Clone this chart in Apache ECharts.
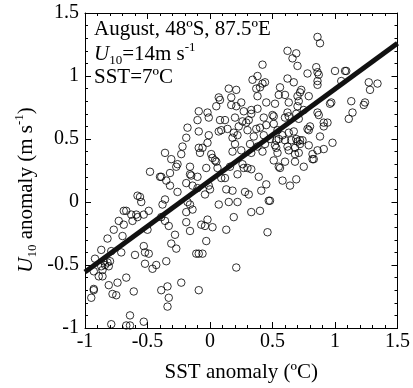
<!DOCTYPE html>
<html><head><meta charset="utf-8">
<script src="https://cdn.jsdelivr.net/npm/echarts@6/dist/echarts.min.js"></script>
<style>html,body{margin:0;padding:0;background:#fff}#c{width:413px;height:388px}</style>
</head><body><div id="c"></div>
<script>
// SST anomaly (ºC) for each point
const sstAnomaly = [
0.62,0.69,0.66,0.70,0.42,0.38,0.34,0.62,0.67,0.44,0.42,0.40,0.15,0.21,0.37,0.56,0.55,0.60,0.17,0.07,
0.08,0.38,0.45,0.52,0.63,0.25,0.17,0.05,0.21,-0.09,-0.02,0.27,0.33,0.33,0.38,0.62,0.50,0.20,0.86,0.88,
0.85,0.86,0.87,0.78,1.00,1.08,1.09,0.86,0.86,1.05,1.27,1.34,1.28,0.73,0.72,0.70,0.79,0.71,0.97,0.96,
1.13,1.24,1.23,0.70,0.75,0.69,0.86,1.14,1.11,0.71,-0.10,-0.18,-0.09,-0.19,-0.22,-0.23,-0.36,-0.31,-0.26,-0.27,
-0.16,-0.16,-0.15,-0.48,-0.32,-0.40,-0.39,-0.35,-0.10,-0.19,-0.32,-0.14,-0.10,-0.26,-0.58,-0.56,-0.55,-0.36,-0.38,-0.18,
-0.16,-0.19,-0.14,-0.69,-0.67,-0.63,-0.59,-0.58,-0.53,-0.49,-0.62,-0.73,-0.39,-0.36,-0.19,-0.01,0.08,0.12,0.26,0.29,
0.31,0.43,0.51,0.60,0.63,-0.01,0.07,0.09,0.14,0.19,0.23,0.30,0.37,0.40,0.45,0.51,0.54,0.58,0.63,0.67,
0.69,0.22,0.18,0.43,0.48,0.53,0.55,0.60,0.65,0.35,-0.02,-0.09,-0.06,-0.08,0.20,0.32,0.38,0.44,0.52,0.53,
0.62,0.63,0.68,0.01,0.02,0.04,0.05,0.25,0.18,0.33,0.42,0.54,0.68,0.51,0.60,0.68,-0.03,0.06,0.16,0.26,
0.27,0.30,0.33,0.55,0.56,0.09,0.12,0.22,0.39,0.45,0.58,0.64,0.69,-0.04,-0.01,0.00,0.13,0.18,0.28,0.31,
0.41,0.47,0.48,0.07,0.15,0.22,0.33,0.40,0.19,0.87,0.91,0.94,0.91,0.80,0.78,0.79,0.88,0.70,0.72,0.74,
0.72,0.79,0.98,0.91,0.86,0.71,0.82,0.82,0.83,0.75,-0.69,-0.77,-0.82,-0.70,-0.87,-0.79,-0.71,-0.60,-0.92,-0.85,
-0.82,-0.80,-0.84,-0.81,-0.87,-0.86,-0.93,-0.89,-0.86,-0.50,-0.53,-0.52,-0.49,-0.52,-0.43,-0.46,-0.35,-0.67,-0.74,-0.81,
-0.93,-0.93,-0.95,-0.78,-0.75,-0.61,-0.39,-0.34,-0.33,-0.34,-0.23,-0.09,-0.64,-0.79,-0.67,-0.64,-0.53,-0.33,-0.16,-0.28,
-0.31,-0.27,-0.07,-0.04,-0.02,0.02,-0.03,-0.11,-0.09,-0.06,0.13,0.21,0.46
];
// U10 anomaly (m s-1) for each point
const u10Anomaly = [
1.20,1.18,1.14,1.08,1.09,1.00,0.97,0.98,0.95,0.95,0.94,0.91,0.90,0.89,0.90,0.91,0.85,0.85,0.83,0.83,
0.81,0.84,0.79,0.78,0.79,0.79,0.77,0.76,0.76,0.72,0.71,0.72,0.73,0.70,0.74,0.71,0.69,0.67,1.31,1.26,
1.07,1.03,1.01,1.02,1.04,1.04,1.04,0.96,0.93,0.96,0.95,0.94,0.89,0.89,0.87,0.84,0.84,0.80,0.79,0.78,
0.80,0.79,0.77,0.76,0.73,0.70,0.71,0.71,0.66,0.66,0.65,0.59,0.56,0.51,0.44,0.38,0.39,0.34,0.30,0.28,
0.28,0.22,0.21,0.24,0.23,0.20,0.20,0.17,0.20,0.15,0.13,0.13,0.11,0.08,0.05,0.04,0.00,0.02,-0.02,0.00,
-0.02,-0.08,-0.06,-0.07,-0.07,-0.10,-0.10,-0.12,-0.10,-0.07,-0.15,-0.15,-0.12,-0.15,-0.16,0.67,0.65,0.65,0.64,0.63,
0.65,0.67,0.68,0.67,0.68,0.53,0.56,0.57,0.58,0.55,0.60,0.57,0.58,0.59,0.61,0.62,0.57,0.53,0.55,0.56,
0.50,0.53,0.51,0.53,0.50,0.49,0.50,0.49,0.49,0.52,0.47,0.43,0.43,0.39,0.46,0.46,0.44,0.46,0.45,0.43,
0.44,0.41,0.43,0.38,0.35,0.33,0.32,0.41,0.40,0.39,0.40,0.39,0.38,0.33,0.32,0.32,0.27,0.27,0.28,0.30,
0.27,0.27,0.26,0.28,0.27,0.19,0.19,0.22,0.20,0.14,0.17,0.13,0.18,0.06,0.13,0.10,0.10,0.09,0.08,0.06,
0.09,0.01,0.01,-0.02,0.00,0.00,-0.08,-0.07,-0.12,0.69,0.63,0.63,0.60,0.60,0.58,0.57,0.52,0.48,0.49,0.49,
0.46,0.45,0.47,0.42,0.41,0.39,0.38,0.34,0.34,0.28,-0.18,-0.22,-0.29,-0.27,-0.38,-0.39,-0.40,-0.42,-0.45,-0.47,
-0.48,-0.47,-0.50,-0.51,-0.51,-0.54,-0.55,-0.59,-0.59,-0.22,-0.35,-0.40,-0.41,-0.49,-0.50,-0.53,-0.47,-0.60,-0.64,-0.66,
-0.69,-0.70,-0.76,-0.73,-0.74,-0.71,-0.70,-0.67,-0.76,-0.83,-0.64,-0.70,-0.90,-0.97,-0.98,-0.98,-0.95,-0.19,-0.23,-0.26,
-0.33,-0.37,-0.18,-0.19,-0.14,-0.20,-0.31,-0.41,-0.41,-0.41,-0.22,-0.52,-0.24
];
// Regression line end points
const fitX = [-1, 1.5];
const fitY = [-0.555, 1.26];
const axisMin = -1, axisMax = 1.5, axisStep = 0.5;

const points = sstAnomaly.map((x, i) => [x, u10Anomaly[i]]);
const fitLine = fitX.map((x, i) => [x, fitY[i]]);

const serif = 'Liberation Serif';
const chart = echarts.init(document.getElementById('c'), null, {renderer: 'canvas'});

function axisCommon(extra) {
  return Object.assign({
    type: 'value', min: axisMin, max: axisMax, interval: axisStep,
    splitLine: {show: false},
    axisLine: {show: true, onZero: false, lineStyle: {color: '#000', width: 1}},
    axisTick: {show: true, inside: true, length: 6, lineStyle: {color: '#000'}},
    minorTick: {show: true, splitNumber: 5, length: 3, lineStyle: {color: '#000'}},
    axisLabel: {show: true, color: '#000', fontFamily: serif, fontSize: 20}
  }, extra);
}
const richStyles = {
  i: {fontFamily: serif, fontSize: 21, fontStyle: 'italic', lineHeight: 26, verticalAlign: 'middle'},
  n: {fontFamily: serif, fontSize: 21, lineHeight: 26, verticalAlign: 'middle'},
  sub: {fontFamily: serif, fontSize: 13, lineHeight: 13, verticalAlign: 'bottom'},
  sup: {fontFamily: serif, fontSize: 13, lineHeight: 13, verticalAlign: 'top'}
};

chart.setOption({
  animation: false,
  backgroundColor: '#fff',
  grid: {left: 85, right: 13, top: 13, bottom: 59, containLabel: false},
  xAxis: [
    axisCommon({position: 'bottom', name: 'SST anomaly (ºC)', nameLocation: 'middle', nameGap: 34,
      nameTextStyle: {color: '#000', fontFamily: serif, fontSize: 21},
      axisLabel: {show: true, color: '#000', fontFamily: serif, fontSize: 20, margin: 4}}),
    axisCommon({position: 'top', axisLabel: {show: false}})
  ],
  yAxis: [
    axisCommon({position: 'left', axisLabel: {show: true, color: '#000', fontFamily: serif, fontSize: 20, margin: 6}}),
    axisCommon({position: 'right', axisLabel: {show: false}})
  ],
  graphic: [
    {type: 'text', left: 94, top: 19, style: {text: 'August, 48ºS, 87.5ºE', font: '21px "Liberation Serif"', fill: '#000'}},
    {type: 'text', left: 94, top: 41, style: {
      text: '{i|U}{sub|10}{n|=14m s}{sup|-1}', fill: '#000', rich: richStyles}},
    {type: 'text', left: 94, top: 67, style: {text: 'SST=7ºC', font: '21px "Liberation Serif"', fill: '#000'}},
    {type: 'text', x: 26, y: 190, rotation: Math.PI / 2, style: {
      text: '{i|U}{sub|10}{n| anomaly (m s}{sup|-1}{n|)}',
      fill: '#000', align: 'center', verticalAlign: 'middle', rich: richStyles}}
  ],
  series: [
    {type: 'scatter', xAxisIndex: 0, yAxisIndex: 0, data: points, symbol: 'circle', symbolSize: 7.5,
      itemStyle: {color: 'rgba(0,0,0,0)', borderColor: '#000', borderWidth: 1}},
    {type: 'line', xAxisIndex: 0, yAxisIndex: 0, data: fitLine, showSymbol: false, symbol: 'none',
      lineStyle: {color: '#111', width: 5}, z: 3}
  ]
});
</script>
</body></html>
